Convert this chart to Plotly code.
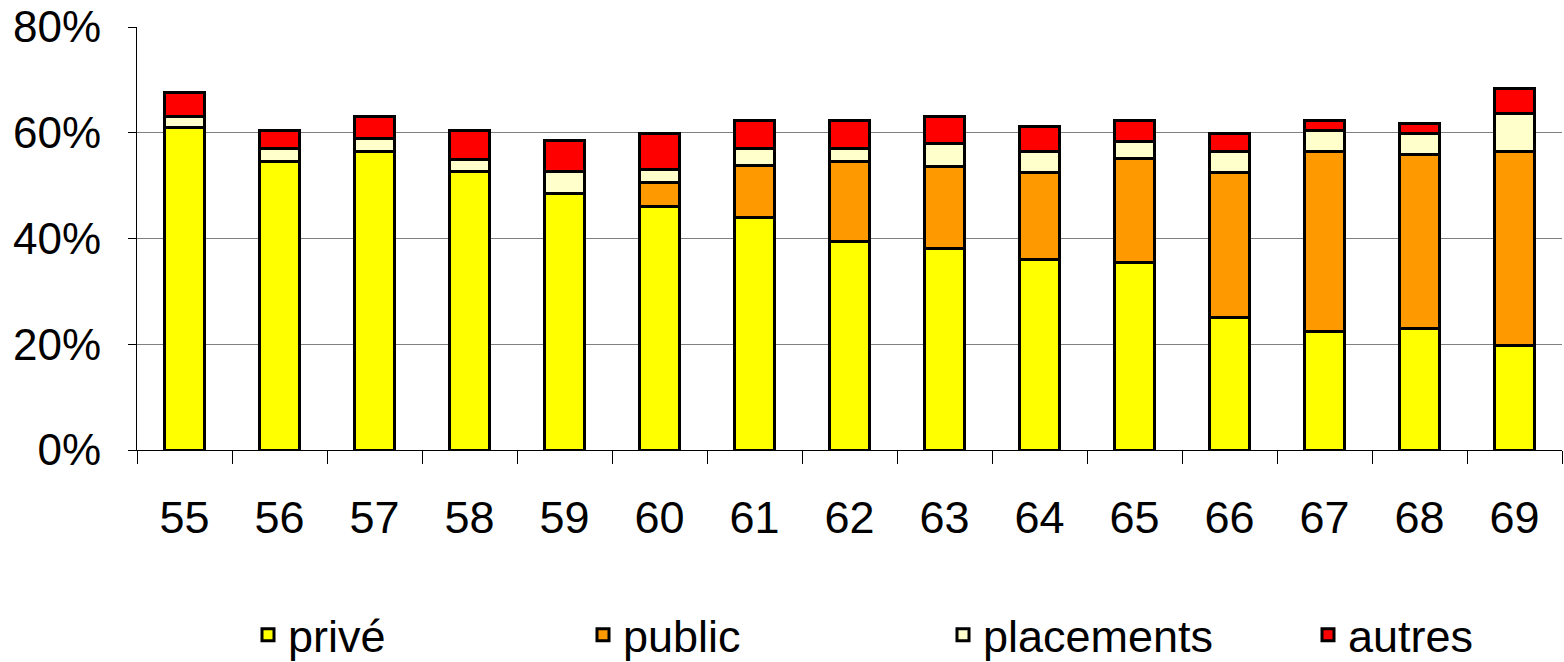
import plotly.graph_objects as go

years = ["55", "56", "57", "58", "59", "60", "61", "62", "63", "64", "65", "66", "67", "68", "69"]
prive = [61.0, 54.5, 56.5, 52.6, 48.5, 46.0, 44.0, 39.4, 38.1, 36.0, 35.5, 25.0, 22.4, 23.0, 19.7]
public = [0.0, 0.0, 0.0, 0.0, 0.0, 4.6, 9.8, 15.1, 15.6, 16.5, 19.6, 27.4, 34.1, 32.8, 36.8]
placements = [2.0, 2.5, 2.4, 2.4, 4.1, 2.5, 3.3, 2.6, 4.3, 4.0, 3.3, 4.1, 3.9, 4.1, 7.1]
autres = [4.6, 3.4, 4.2, 5.4, 5.9, 6.7, 5.3, 5.3, 5.1, 4.6, 4.0, 3.3, 2.0, 1.9, 4.7]

series = [
    ("privé", prive, "#FFFF00"),
    ("public", public, "#FF9900"),
    ("placements", placements, "#FFFFCC"),
    ("autres", autres, "#FF0000"),
]
legend_ids = ["legend", "legend2", "legend3", "legend4"]
legend_x = [248, 583, 943, 1308]

W, H = 1564, 662
font_family = "Liberation Sans, Arial, sans-serif"

fig = go.Figure()
for (name, vals, col), lid in zip(series, legend_ids):
    fig.add_trace(go.Bar(
        x=years, y=[v / 100 for v in vals], name=name, legend=lid,
        marker=dict(color=col, line=dict(color="black", width=3)),
    ))

legends = {}
for lid, lx in zip(legend_ids, legend_x):
    legends[lid] = dict(
        orientation="h", xref="container", yref="container",
        x=lx / W, xanchor="left", y=(H - 635) / H, yanchor="middle",
        font=dict(size=45, family=font_family), bgcolor="rgba(0,0,0,0)",
    )

fig.update_layout(
    barmode="stack",
    bargap=0.58,
    width=W, height=H,
    margin=dict(l=137, r=W - 1562, t=27, b=H - 450, autoexpand=False),
    plot_bgcolor="white", paper_bgcolor="white",
    font=dict(family=font_family, color="black", size=44),
    showlegend=True,
    **legends,
)
fig.update_yaxes(
    range=[0, 0.8], dtick=0.2, tickformat=".0%",
    showgrid=True, gridcolor="#808080", gridwidth=1,
    showline=True, linecolor="black", linewidth=1,
    ticks="outside", ticklen=8, tickcolor="black",
    zeroline=True, zerolinecolor="black", zerolinewidth=1,
    tickfont=dict(size=44), ticklabelstandoff=18, automargin=False,
)
fig.update_xaxes(
    type="category", showline=True, linecolor="black", linewidth=1,
    ticks="outside", tickson="boundaries", ticklen=13, tickcolor="black",
    tickfont=dict(size=45), ticklabelstandoff=28, automargin=False,
)
fig.write_html(
    "out.html",
    config={"displayModeBar": False},
    post_script="document.body.style.margin='0';document.body.style.overflow='hidden';",
)
